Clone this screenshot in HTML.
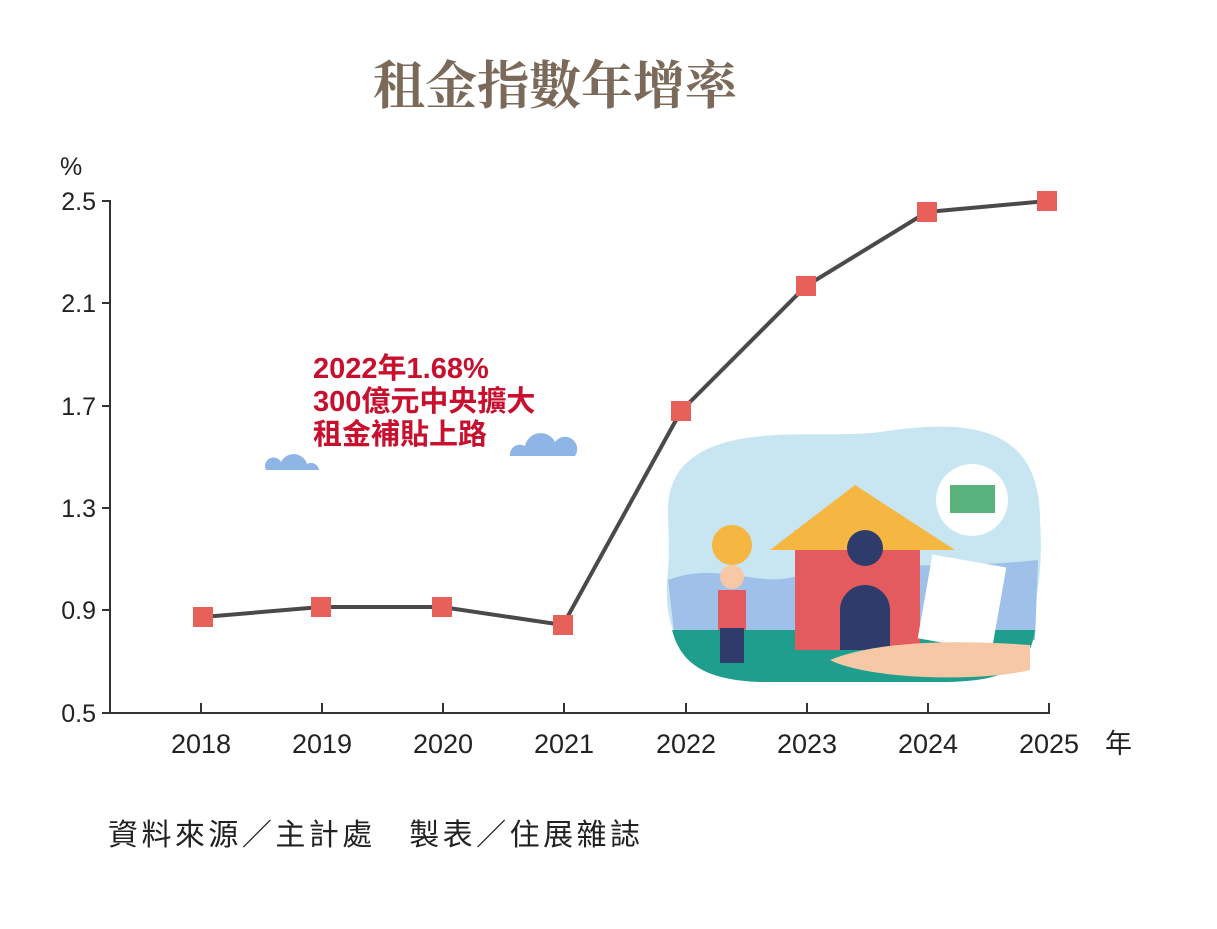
<!DOCTYPE html>
<html><head><meta charset="utf-8"><style>
html,body{margin:0;padding:0;background:#fff;}
body{width:1217px;height:924px;overflow:hidden;}
</style></head><body>
<svg width="1217" height="924" xmlns="http://www.w3.org/2000/svg">
<text x="555" y="104" text-anchor="middle" font-family="'Noto Serif CJK SC','Noto Serif CJK TC',serif" font-weight="bold" font-size="52" fill="#7b6a5a">租金指數年增率</text>
<g font-family="'Liberation Sans','Noto Sans CJK TC',sans-serif" font-size="25" fill="#222">
<text x="60" y="175">%</text>
<text x="96" y="210" text-anchor="end">2.5</text>
<text x="96" y="312" text-anchor="end">2.1</text>
<text x="96" y="415" text-anchor="end">1.7</text>
<text x="96" y="517" text-anchor="end">1.3</text>
<text x="96" y="619" text-anchor="end">0.9</text>
<text x="96" y="722" text-anchor="end">0.5</text>
<g text-anchor="middle" font-size="27">
<text x="201" y="753">2018</text><text x="322" y="753">2019</text><text x="443" y="753">2020</text><text x="564" y="753">2021</text>
<text x="686" y="753">2022</text><text x="807" y="753">2023</text><text x="928" y="753">2024</text><text x="1049" y="753">2025</text>
</g>
<text x="1105" y="753" font-size="27">年</text>
<text x="108" y="845" font-size="30" textLength="532" lengthAdjust="spacing">資料來源／主計處　製表／住展雜誌</text>
</g>
<!-- illustration -->
<path d="M680 470 C720 420 820 440 880 432 C960 420 1040 420 1040 520 C1045 600 1030 680 940 682 L760 682 C690 680 660 640 668 570 C672 520 660 500 680 470Z" fill="#c8e6f2"/>
<path d="M668 580 C720 560 760 590 800 575 C860 560 950 570 1038 560 L1035 640 L675 640Z" fill="#9fc0e8"/>
<path d="M672 630 L1035 630 C1030 670 1000 682 940 682 L760 682 C700 680 680 660 672 630Z" fill="#1f9e8e"/>
<rect x="795" y="530" width="125" height="120" fill="#e35a5f"/>
<path d="M770 550 L855 485 L955 550Z" fill="#f5b642"/>
<circle cx="865" cy="548" r="18" fill="#2e3b6b"/>
<path d="M840 650 V610 a25 25 0 0 1 50 0 V650Z" fill="#2e3b6b"/>
<rect x="925" y="560" width="75" height="85" fill="#fff" transform="rotate(10 960 600)"/>
<path d="M830 660 C880 640 960 640 1030 645 L1030 670 C980 682 870 680 830 660Z" fill="#f6c8a6"/>
<circle cx="972" cy="500" r="36" fill="#fff"/>
<rect x="950" y="485" width="45" height="28" fill="#5ab27c"/>
<circle cx="732" cy="545" r="20" fill="#f5b642"/>
<rect x="718" y="590" width="28" height="40" fill="#e35a5f"/>
<rect x="720" y="628" width="24" height="35" fill="#2e3b6b"/>
<circle cx="732" cy="577" r="12" fill="#f6c8a6"/>
<g stroke="#333" stroke-width="2" fill="none">
<path d="M110 200V713H1050"/>
<path d="M110 201h-8M110 303h-8M110 406h-8M110 508h-8M110 610h-8M110 713h-8"/>
<path d="M201 713v-10M322 713v-10M443 713v-10M564 713v-10M686 713v-10M807 713v-10M928 713v-10M1049 713v-10"/>
</g>
<!-- clouds -->
<path d="M266 470 a8 8 0 0 1 15-8 a14 14 0 0 1 26 2 a8 8 0 0 1 12 6Z" fill="#8fb4e6"/>
<path d="M510 456 a10 10 0 0 1 15-10 a16 16 0 0 1 30-4 a10 10 0 0 1 20 14Z" fill="#8fb4e6"/>
<g font-family="'Liberation Sans','Noto Sans CJK TC',sans-serif" font-size="29" font-weight="bold" fill="#c8102e">
<text x="313" y="378">2022年1.68%</text>
<text x="313" y="411">300億元中央擴大</text>
<text x="313" y="444">租金補貼上路</text>
</g>
<polyline points="203,617 321,607 442,607 563,625 681,411 806,286 927,212 1047,201" fill="none" stroke="#4a4a4a" stroke-width="4"/>
<g fill="#e8605a">
<rect x="193" y="607" width="20" height="20"/><rect x="311" y="597" width="20" height="20"/>
<rect x="432" y="597" width="20" height="20"/><rect x="553" y="615" width="20" height="20"/>
<rect x="671" y="401" width="20" height="20"/><rect x="796" y="276" width="20" height="20"/>
<rect x="917" y="202" width="20" height="20"/><rect x="1037" y="191" width="20" height="20"/>
</g>
</svg>
</body></html>
